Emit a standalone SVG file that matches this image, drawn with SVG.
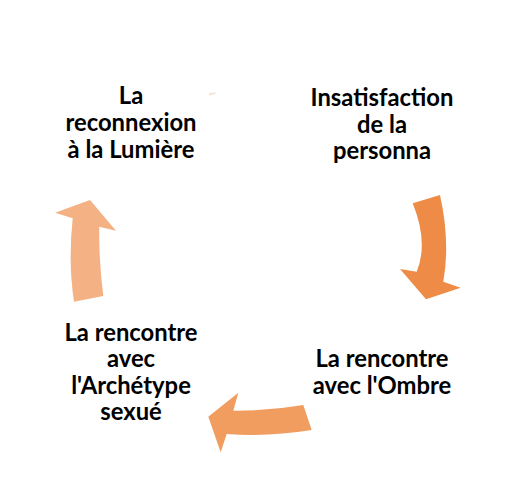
<svg xmlns="http://www.w3.org/2000/svg" width="527" height="495" viewBox="0 0 527 495">
<style>
.lbl{font-family:Lato,"Open Sans","Liberation Sans",sans-serif;font-weight:bold;font-size:23.8px;fill:#000;text-anchor:middle}
</style>
<rect width="527" height="495" fill="#fff"/>
<g id="connectors">
<path id="arrow-top" d="M209 93 L215 92.6 L216 93.8 L209 95.4 Z" fill="#FBE1CF"/>
<path id="arrow-right" d="M412.7 203.3 L440 195 Q450.4 241.7 443.3 281.7 L460.7 287.7 L426 299.3 L400 269 L416.7 271.7 Q428.6 242.6 412.7 203.3 Z" fill="#EE8C47"/>
<path id="arrow-bottom" d="M303.3 405 L311.7 430 Q268 437 226.7 434 L220.7 452.3 L208.3 416.7 L238.3 392.7 L233.3 410.7 Q268 411 303.3 405 Z" fill="#F19D60"/>
<path id="arrow-left" d="M74 301.7 L103.3 296 Q98.7 260 99.3 226.7 L116 230.7 L90 200 L55 212.7 L72.7 218.3 Q68 262 74 301.7 Z" fill="#F4B183"/>
</g>
<g id="node-insatisfaction">
<text class="lbl" x="382" y="106">Insatisfaction</text>
<text class="lbl" x="382" y="133">de la</text>
<text class="lbl" x="382" y="159">personna</text>
</g>
<g id="node-ombre">
<text class="lbl" x="382" y="367">La rencontre</text>
<text class="lbl" x="382" y="394">avec l'Ombre</text>
</g>
<g id="node-archetype">
<text class="lbl" x="131" y="341">La rencontre</text>
<text class="lbl" x="131" y="367">avec</text>
<text class="lbl" x="131" y="394">l'Archétype</text>
<text class="lbl" x="131" y="420">sexué</text>
</g>
<g id="node-lumiere">
<text class="lbl" x="131" y="104">La</text>
<text class="lbl" x="131" y="131">reconnexion</text>
<text class="lbl" x="131" y="158">à la Lumière</text>
</g>
</svg>
